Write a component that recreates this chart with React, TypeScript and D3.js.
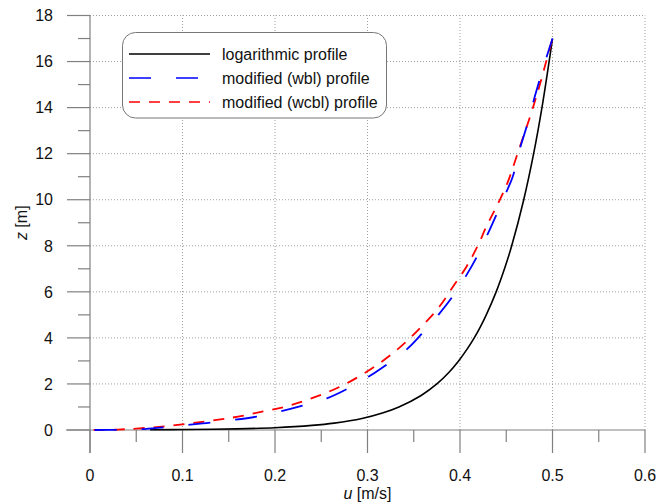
import { useEffect, useRef } from 'react';
import * as d3 from 'd3';

// logarithmic profile
const logZ = [0.01, 0.02, 0.05, 0.1, 0.2, 0.3, 0.5, 0.75, 1, 1.5, 2, 2.5, 3, 3.5, 4, 4.5, 5, 6, 7, 8, 10, 12, 14, 17];
const logU = [0.065, 0.105, 0.159, 0.2, 0.24, 0.264, 0.294, 0.317, 0.334, 0.358, 0.375, 0.3879, 0.3985, 0.4075, 0.4154, 0.4223, 0.4284, 0.4391, 0.4481, 0.4559, 0.4689, 0.4796, 0.4886, 0.5];

// modified (wbl) profile
const wblZ = [0, 0.01, 0.03, 0.12, 0.22, 0.32, 0.58, 0.82, 1.06, 1.37, 1.77, 2.31, 2.64, 3.5, 4.17, 5.0, 5.74, 6.66, 7.5, 8.47, 9.37, 10.3, 11.0, 12.23, 13.17, 14.5, 15.8, 17];
const wblU = [0.005, 0.03, 0.054, 0.08, 0.106, 0.13, 0.18, 0.207, 0.23, 0.256, 0.2775, 0.301, 0.3135, 0.3424, 0.3586, 0.3766, 0.391, 0.406, 0.418, 0.4295, 0.4396, 0.4497, 0.457, 0.4649, 0.472, 0.481, 0.4905, 0.5];

// modified (wcbl) profile
const wcblZ = [0, 0.02, 0.06, 0.19, 0.43, 0.58, 0.8, 1.01, 1.3, 1.66, 2.1, 2.63, 3.21, 3.88, 4.6, 5.35, 6.2, 7.06, 7.96, 8.86, 9.77, 10.71, 12.23, 13.6, 14.76, 15.9, 17];
const wcblU = [0.004, 0.03, 0.05, 0.088, 0.135, 0.16, 0.186, 0.211, 0.234, 0.258, 0.281, 0.303, 0.3235, 0.343, 0.361, 0.3776, 0.392, 0.4065, 0.4187, 0.4288, 0.4403, 0.4511, 0.4641, 0.4757, 0.4846, 0.4925, 0.5];

const uTicks = [0, 0.1, 0.2, 0.3, 0.4, 0.5, 0.6];
const uMinor = [0.05, 0.15, 0.25, 0.35, 0.45, 0.55];
const zTicks = [0, 2, 4, 6, 8, 10, 12, 14, 16, 18];
const zMinor = [1, 3, 5, 7, 9, 11, 13, 15, 17];

const seriesNames = ['logarithmic profile', 'modified (wbl) profile', 'modified (wcbl) profile'];
const seriesColors = ['#000000', '#0000ff', '#ff0000'];
const seriesDash = [null, '22,25', '11,9'];

export default function App() {
  const svgRef = useRef<SVGSVGElement>(null);

  useEffect(() => {
    const width = 671;
    const height = 504;
    const svg = d3.select(svgRef.current);
    svg.selectAll('*').remove();
    svg.attr('width', width).attr('height', height);

    const x = d3.scaleLinear().domain([0, 0.6]).range([90, 645]);
    const y = d3.scaleLinear().domain([0, 18]).range([430, 15.5]);
    const font = 'Arial, "Liberation Sans", sans-serif';
    const axisColor = '#808080';

    // grid
    const grid = svg.append('g').attr('stroke', '#a0a0a0').attr('stroke-dasharray', '1,2').attr('stroke-width', 1);
    uTicks.slice(1).forEach(t => {
      grid.append('line').attr('x1', x(t)).attr('x2', x(t)).attr('y1', y(0)).attr('y2', y(18));
    });
    zTicks.slice(1).forEach(t => {
      grid.append('line').attr('x1', x(0)).attr('x2', x(0.6)).attr('y1', y(t)).attr('y2', y(t));
    });

    // axes
    const ax = svg.append('g').attr('stroke', axisColor).attr('stroke-width', 1.2);
    ax.append('line').attr('x1', x(0)).attr('x2', x(0)).attr('y1', y(18)).attr('y2', y(0) + 23);
    ax.append('line').attr('x1', x(0) - 24).attr('x2', x(0.6)).attr('y1', y(0)).attr('y2', y(0));
    uTicks.forEach(t => {
      ax.append('line').attr('x1', x(t)).attr('x2', x(t)).attr('y1', y(0)).attr('y2', y(0) + 23);
    });
    uMinor.forEach(t => {
      ax.append('line').attr('x1', x(t)).attr('x2', x(t)).attr('y1', y(0)).attr('y2', y(0) + 12);
    });
    zTicks.forEach(t => {
      ax.append('line').attr('x1', x(0) - 23).attr('x2', x(0)).attr('y1', y(t)).attr('y2', y(t));
    });
    zMinor.forEach(t => {
      ax.append('line').attr('x1', x(0) - 12).attr('x2', x(0)).attr('y1', y(t)).attr('y2', y(t));
    });

    svg.append('g')
      .selectAll('text')
      .data(uTicks)
      .enter()
      .append('text')
      .attr('x', d => x(d))
      .attr('y', 481)
      .attr('text-anchor', 'middle')
      .attr('font-family', font)
      .attr('font-size', 16)
      .attr('fill', '#111')
      .text(d => d3.format('')(d));

    svg.append('g')
      .selectAll('text')
      .data(zTicks)
      .enter()
      .append('text')
      .attr('x', 53)
      .attr('y', d => y(d))
      .attr('dy', '0.36em')
      .attr('text-anchor', 'end')
      .attr('font-family', font)
      .attr('font-size', 16)
      .attr('fill', '#111')
      .text(d => d);

    // axis titles
    const xt = svg.append('text')
      .attr('x', (x(0) + x(0.6)) / 2)
      .attr('y', 499)
      .attr('text-anchor', 'middle')
      .attr('font-family', font)
      .attr('font-size', 16)
      .attr('fill', '#111');
    xt.append('tspan').attr('font-style', 'italic').text('u');
    xt.append('tspan').text(' [m/s]');

    const yt = svg.append('text')
      .attr('transform', `translate(27,${(y(0) + y(18)) / 2}) rotate(-90)`)
      .attr('text-anchor', 'middle')
      .attr('font-family', font)
      .attr('font-size', 16)
      .attr('fill', '#111');
    yt.append('tspan').attr('font-style', 'italic').text('z');
    yt.append('tspan').text(' [m]');

    // curves
    const line = d3.line<[number, number]>()
      .x(d => x(d[0]))
      .y(d => y(d[1]))
      .curve(d3.curveCatmullRom.alpha(0.5));

    const series: [number, number][][] = [
      logU.map((u, i) => [u, logZ[i]]),
      wblU.map((u, i) => [u, wblZ[i]]),
      wcblU.map((u, i) => [u, wcblZ[i]]),
    ];

    [0, 2, 1].forEach(i => {
      svg.append('path')
        .attr('d', line(series[i]))
        .attr('fill', 'none')
        .attr('stroke', seriesColors[i])
        .attr('stroke-width', i === 0 ? 1.6 : 1.8)
        .attr('stroke-dasharray', seriesDash[i]);
    });

    // legend
    const legend = svg.append('g');
    legend.append('rect')
      .attr('x', 122.5)
      .attr('y', 32.5)
      .attr('width', 264)
      .attr('height', 85.5)
      .attr('rx', 13)
      .attr('fill', '#fff')
      .attr('stroke', '#777')
      .attr('stroke-width', 1);

    const items = legend.selectAll('.legend-item')
      .data(seriesNames)
      .enter()
      .append('g')
      .attr('class', 'legend-item')
      .attr('transform', (d, i) => `translate(0, ${54 + i * 24})`);

    items.append('line')
      .attr('x1', 129)
      .attr('x2', 210)
      .attr('stroke', (d, i) => seriesColors[i])
      .attr('stroke-width', 1.6)
      .attr('stroke-dasharray', (d, i) => seriesDash[i]);

    items.append('text')
      .attr('x', 222)
      .attr('dy', '0.36em')
      .attr('font-family', font)
      .attr('font-size', 16)
      .attr('fill', '#111')
      .text(d => d);
  }, []);

  return (
    <svg ref={svgRef} style={{ position: 'absolute', left: 0, top: 0, background: '#fff' }}></svg>
  );
}
